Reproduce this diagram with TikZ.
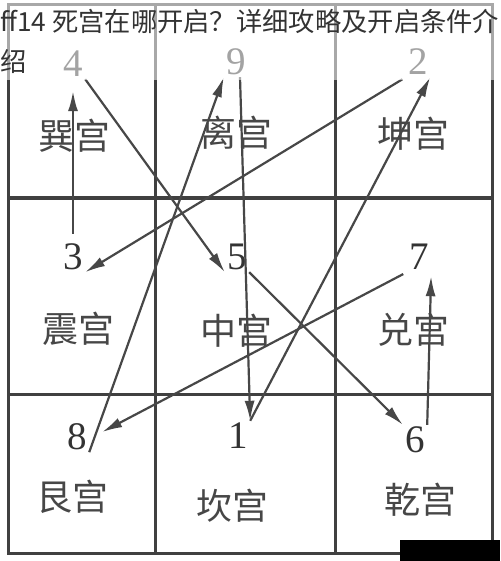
\documentclass[tikz,border=0pt]{standalone}
\usepackage{fontspec}
\setmainfont{Liberation Serif}
\newfontfamily\cjk{Noto Sans CJK SC}
\usetikzlibrary{arrows.meta}

\begin{document}
\begin{tikzpicture}[x=1pt,y=-1pt]
	\tikzstyle{grid}=[draw=black!75,line width=3pt]
	\tikzstyle{num}=[text=black!80,font=\fontsize{39}{39}\selectfont,minimum width=24pt,minimum height=30pt,inner sep=0pt]
	\tikzstyle{gong}=[text=black!72,font=\cjk\fontsize{36}{36}\selectfont,inner sep=0pt]
	\tikzstyle{arr}=[draw=black!72,line width=2.2pt,-{Latex[length=20pt,width=10pt]}]
	\useasboundingbox (0,0) rectangle (500,561);
	\fill[white] (0,0) rectangle (500,561);
	% grid
	\draw[grid] (8,5) rectangle (492,553);
	\draw[grid] (155,5) -- (155,553);
	\draw[grid] (335,5) -- (335,553);
	\draw[grid] (8,198) -- (492,198);
	\draw[grid] (8,394) -- (492,394);
	% palaces
	\node[gong] (xun) at (74,136) {巽宫};
	\node[gong] (li) at (236,133) {离宫};
	\node[gong] (kun) at (413,134) {坤宫};
	\node[gong] (zhen) at (78,329) {震宫};
	\node[gong] (zhong) at (236,331) {中宫};
	\node[gong] (dui) at (413,330) {兑宫};
	\node[gong] (gen) at (72,497) {艮宫};
	\node[gong] (kan) at (232,506) {坎宫};
	\node[gong] (qian) at (420,500) {乾宫};
	% numbers
	\node[num] (n4) at (73,64) {4};
	\node[num] (n9) at (236,62) {9};
	\node[num] (n2) at (418,62) {2};
	\node[num] (n3) at (73,257) {3};
	\node[num] (n5) at (237,257) {5};
	\node[num] (n7) at (419,257) {7};
	\node[num] (n8) at (77,437) {8};
	\node[num] (n1) at (238,436) {1};
	\node[num] (n6) at (415,440) {6};
	% path of the stars
	\draw[arr] (n1.north east) -- (n2.south east);
	\draw[arr,shorten <=4pt] (n2.south west) -- (n3.south east);
	\draw[arr,shorten <=8pt,shorten >=12pt] (n3.north) -- (n4.south);
	\draw[arr] (n4.south east) -- (n5.south west);
	\draw[arr] (n5.south east) -- (n6.north west);
	\draw[arr,shorten >=4pt] (n6.north east) -- (n7.south east);
	\draw[arr,shorten <=4pt] (n7.south west) -- ([xshift=13pt,yshift=5pt]n8.east);
	\draw[arr] (n8.south east) -- (n9.south west);
	\draw[arr] ([xshift=4pt]n9.south) -- (n1.north east);
	% title band
	\fill[white,opacity=0.55] (0,0) rectangle (500,80);
	\node[anchor=north west,align=left,inner sep=0pt,text=black!80,font=\cjk\fontsize{26.3}{40}\selectfont] (title) at (0,9) {ff14 死宫在哪开启？详细攻略及开启条件介\\绍};
	\fill[black] (400,540) rectangle (500,561);
\end{tikzpicture}
\end{document}
